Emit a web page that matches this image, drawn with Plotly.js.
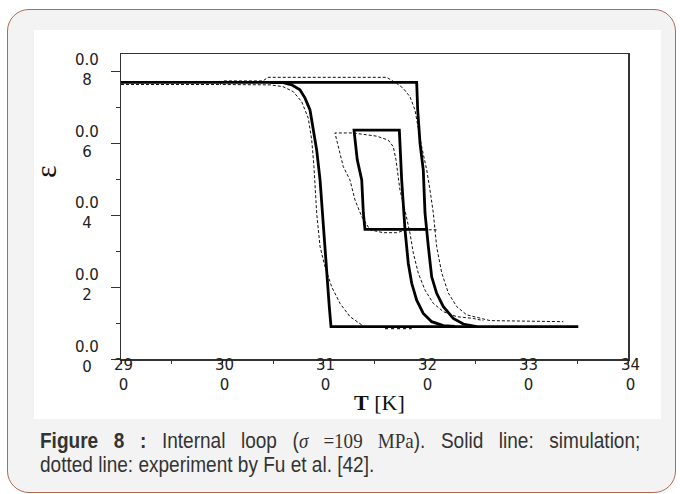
<!DOCTYPE html>
<html>
<head>
<meta charset="utf-8">
<script src="https://cdn.plot.ly/plotly-3.0.1.min.js"></script>
<style>
  body { margin:0; width:680px; height:494px; background:#fff; position:relative; overflow:hidden; }
  #card { position:absolute; left:7px; top:9px; width:669px; height:484px; box-sizing:border-box;
          border:1px solid #b06a52; border-radius:22px; background:#f3f3f3; }
  #whitebox { position:absolute; left:34px; top:30px; width:627px; height:389px; background:#fff; }
  #plot { position:absolute; left:0; top:0; width:680px; height:494px; }
  #caption { position:absolute; left:40px; top:429px; width:694px; color:#333;
             transform:scaleX(0.865); transform-origin:0 0;
             font-family:"Liberation Sans",Arial,sans-serif; font-size:22px; line-height:24px; }
  #cap1 { text-align:justify; text-align-last:justify; white-space:nowrap; }
  .serif { font-family:"Liberation Serif","Times New Roman",serif; }
</style>
</head>
<body>
<div id="card"></div>
<div id="whitebox"></div>
<div id="plot"></div>
<div id="caption">
  <div id="cap1"><b>Figure 8 :</b> Internal loop (<span class="serif"><i>σ</i> =109 MPa</span>). Solid line: simulation;</div>
  <div>dotted line: experiment by Fu et al. [42].</div>
</div>
<script>
// ---- data (T in K, strain ε) ----
const simHeatT = [290, 319.16, 319.26, 319.49, 319.81, 319.98, 320.31, 320.64, 321.13, 321.79, 322.77, 323.76, 325.08, 335.10];
const simHeatE = [0.0771, 0.0771, 0.0694, 0.0601, 0.0527, 0.0407, 0.0313, 0.0229, 0.0183, 0.0146, 0.0113, 0.00975, 0.0090, 0.0090];

const simCoolT = [325.08, 310.71, 310.54, 310.35, 310.12, 309.89, 309.63, 309.30, 308.96, 308.64, 308.15, 307.65, 306.83, 306.01, 304.69];
const simCoolE = [0.0090, 0.0090, 0.0146, 0.0220, 0.0313, 0.0406, 0.0499, 0.0582, 0.0647, 0.0694, 0.0727, 0.0750, 0.0764, 0.0770, 0.0771];

const simInnerT = [320.14, 314.06, 313.90, 313.74, 313.30, 312.98, 317.45, 317.58, 317.68, 318.01, 318.33, 318.67, 319.16, 319.81, 320.64, 321.79, 322.94];
const simInnerE = [0.0361, 0.0361, 0.0407, 0.0499, 0.0555, 0.0638, 0.0638, 0.0555, 0.0499, 0.0360, 0.0267, 0.0211, 0.0164, 0.0127, 0.0104, 0.0093, 0.0091];

const expHeatT = [290, 299.76, 299.96, 304.0, 304.50, 316.20, 317.19, 317.81, 318.50, 318.99, 319.65, 320.15, 320.47, 320.80, 321.13, 321.63, 322.28, 323.11, 324.09, 325.40, 326.39, 333.62];
const expHeatE = [0.0765, 0.0765, 0.0775, 0.0775, 0.0785, 0.0785, 0.0768, 0.0755, 0.0731, 0.0694, 0.0592, 0.0527, 0.0471, 0.0407, 0.0313, 0.0240, 0.0184, 0.0146, 0.0123, 0.0114, 0.0107, 0.0104];

const expCoolT = [313.74, 312.58, 311.60, 310.78, 310.12, 309.63, 309.30, 309.13, 309.03, 308.81, 308.47, 307.82, 306.99, 305.98, 304.69, 299.76];
const expCoolE = [0.0095, 0.0118, 0.0155, 0.0201, 0.0257, 0.0313, 0.0406, 0.0499, 0.0536, 0.0610, 0.0671, 0.0717, 0.0745, 0.0759, 0.0764, 0.0765];

const expInnerT = [321.13, 318.17, 317.19, 315.87, 314.56, 313.74, 313.08, 312.58, 311.92, 311.43, 311.10, 312.88, 313.90, 315.22, 316.36, 316.85, 317.12, 317.35, 317.51, 318.11, 318.50, 318.83, 319.32, 319.98, 320.80, 321.79, 323.11, 324.74, 325.73];
const expInnerE = [0.0360, 0.0360, 0.0352, 0.0352, 0.0360, 0.0397, 0.0443, 0.0499, 0.0536, 0.0592, 0.0630, 0.0630, 0.0627, 0.0621, 0.0610, 0.0592, 0.0555, 0.0508, 0.0471, 0.0401, 0.0350, 0.0295, 0.0239, 0.0192, 0.0155, 0.0132, 0.0118, 0.0113, 0.0107];

const expDotT = [316.04, 318.67];
const expDotE = [0.0086, 0.0086];

const xTickVals = [290, 300, 310, 320, 330, 340];
const xTickText = ["29<br>0", "30<br>0", "31<br>0", "32<br>0", "33<br>0", "34<br>0"];
const yTickVals = [0, 0.02, 0.04, 0.06, 0.08];
const yTickText = ["0.0<br>0", "0.0<br>2", "0.0<br>4", "0.0<br>6", "0.0<br>8"];

// ---- traces ----
const dashLine = {color:'#111', width:1, dash:'3px,2px'};
const solidLine = {color:'#000', width:2.8};
const traces = [
  {x: expHeatT, y: expHeatE, mode:'lines', line: dashLine},
  {x: expCoolT, y: expCoolE, mode:'lines', line: dashLine},
  {x: expInnerT, y: expInnerE, mode:'lines', line: dashLine},
  {x: expDotT, y: expDotE, mode:'lines', line: {color:'#222', width:2, dash:'dot'}},
  {x: simHeatT, y: simHeatE, mode:'lines', line: solidLine},
  {x: simCoolT, y: simCoolE, mode:'lines', line: solidLine},
  {x: simInnerT, y: simInnerE, mode:'lines', line: solidLine}
];

const tickFont = {family:'DejaVu Sans, sans-serif', size:15, color:'#222'};
const annotations = [];
xTickVals.forEach((v, i) => annotations.push({
  x: v, xref:'x', y: 0, yref:'paper', yanchor:'top', xanchor:'center', yshift: 5, xshift: 2,
  text: xTickText[i], showarrow:false, font: tickFont, align:'center'
}));
yTickVals.forEach((v, i) => annotations.push({
  x: 0, xref:'paper', y: v, yref:'y', xanchor:'center', yanchor:'middle', xshift: -34, yshift: 2,
  text: yTickText[i], showarrow:false, font: tickFont, align:'center'
}));
annotations.push({
  x: 0.5, xref:'paper', y: 0, yref:'paper', yanchor:'top', xanchor:'center', yshift: -29, xshift: 5,
  text: '<b>T</b> [K]', showarrow:false, font:{family:'Liberation Serif, serif', size:22, color:'#111'}
});
annotations.push({
  x: 0, xref:'paper', y: 0.613, yref:'paper', xanchor:'center', yanchor:'middle', xshift: -76,
  text: 'ε', textangle: -90, showarrow:false, font:{family:'Liberation Serif, serif', size:30, color:'#111'}
});

const layout = {
  width: 680, height: 494,
  margin: {l:121, r:52, t:54, b:135, pad:0},
  paper_bgcolor: 'rgba(0,0,0,0)', plot_bgcolor: '#fff',
  showlegend: false,
  xaxis: {
    range: [290, 340], showgrid:false, zeroline:false, showticklabels:false,
    showline:true, linecolor:'#333', linewidth:1.5, mirror:true,
    ticks:'outside', ticklen:3, tickcolor:'#333', tickwidth:1, tickvals: xTickVals,
    minor: {ticks:'outside', ticklen:3, dtick:5, tick0:290, tickcolor:'#333'}
  },
  yaxis: {
    range: [0, 0.085], showgrid:false, zeroline:false, showticklabels:false,
    showline:true, linecolor:'#333', linewidth:1.5, mirror:true,
    ticks:'outside', ticklen:9, tickcolor:'#333', tickwidth:1, tickvals: yTickVals,
    minor: {ticks:'outside', ticklen:4, dtick:0.01, tick0:0, tickcolor:'#333'}
  },
  annotations: annotations
};
Plotly.newPlot('plot', traces, layout, {staticPlot:true, displayModeBar:false});
</script>
</body>
</html>
